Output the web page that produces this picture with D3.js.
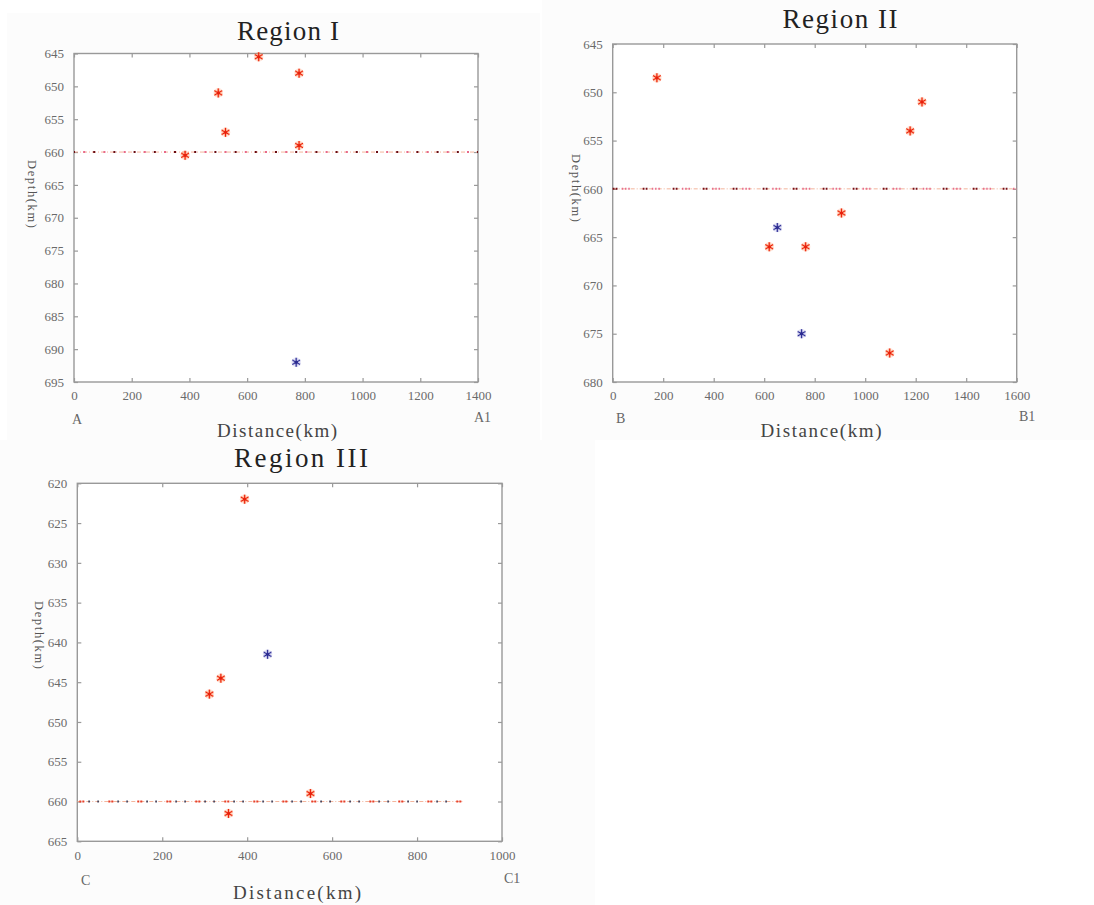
<!DOCTYPE html>
<html><head><meta charset="utf-8">
<script src="https://cdn.jsdelivr.net/npm/d3@7/dist/d3.min.js"></script>
<style>body{margin:0;background:#fff}svg{display:block}</style>
</head><body>
<svg id="c" width="1094" height="905"></svg>
<script>
// ---- Data ----
const titles = ["Region I", "Region II", "Region III"];
const startLabels = ["A", "B", "C"];
const endLabels = ["A1", "B1", "C1"];
const xTicksI = [0, 200, 400, 600, 800, 1000, 1200, 1400];
const xTicksII = [0, 200, 400, 600, 800, 1000, 1200, 1400, 1600];
const xTicksIII = [0, 200, 400, 600, 800, 1000];
const yTicksI = [645, 650, 655, 660, 665, 670, 675, 680, 685, 690, 695];
const yTicksII = [645, 650, 655, 660, 665, 670, 675, 680];
const yTicksIII = [620, 625, 630, 635, 640, 645, 650, 655, 660, 665];
const lineDepth = 660;
const lineEndI = 1400, lineEndII = 1600, lineEndIII = 910;

const redDistI = [640, 780, 500, 525, 780, 385];
const redDepthI = [645.5, 648, 651, 657, 659, 660.5];
const blueDistI = [770];
const blueDepthI = [692];

const redDistII = [175, 1225, 1178, 906, 620, 764, 1097];
const redDepthII = [648.5, 651, 654, 662.5, 666, 666, 677];
const blueDistII = [652, 748];
const blueDepthII = [664, 675];

const redDistIII = [394, 338, 311, 549, 356];
const redDepthIII = [622, 644.5, 646.5, 659, 661.5];
const blueDistIII = [448];
const blueDepthIII = [641.5];

const svg = d3.select("#c");
const SERIF = "'Liberation Serif', 'DejaVu Serif', serif";

// faint panels
[[7,13,533,427],[542,0,552,440],[0,440,595,465]].forEach(p=>{
  svg.append("rect").attr("x",p[0]).attr("y",p[1]).attr("width",p[2]).attr("height",p[3]).attr("fill","#fcfcfc");
});

function drawRegion(cfg){
  const g = svg.append("g");
  const x = d3.scaleLinear().domain(cfg.xDomain).range([cfg.x0, cfg.x1]);
  const y = d3.scaleLinear().domain(cfg.yDomain).range([cfg.y0, cfg.y1]);
  const axCol = "#999";
  g.append("rect").attr("x", cfg.x0).attr("y", cfg.y0).attr("width", cfg.x1-cfg.x0).attr("height", cfg.y1-cfg.y0)
    .attr("fill","#fff").attr("stroke", axCol).attr("stroke-width", 1.4);
  const tl = 4;
  const styleAxis = sel => {
    sel.attr("font-family", null);
    sel.select(".domain").remove();
    sel.selectAll(".tick line").attr("stroke", axCol).attr("stroke-width", 1.2);
    sel.selectAll(".tick text").style("fill", "#6a6a6a").style("font-family", SERIF).style("font-size", "13px");
  };
  g.append("g").attr("transform", `translate(0,${cfg.y1})`)
    .call(d3.axisBottom(x).tickValues(cfg.xTicks).tickSize(-tl).tickPadding(9).tickFormat(d3.format("d")))
    .call(styleAxis);
  g.append("g").attr("transform", `translate(0,${cfg.y0})`)
    .call(d3.axisTop(x).tickValues(cfg.xTicks).tickSize(-tl).tickFormat(""))
    .call(styleAxis);
  g.append("g").attr("transform", `translate(${cfg.x0},0)`)
    .call(d3.axisLeft(y).tickValues(cfg.yTicks).tickSize(-tl).tickPadding(10).tickFormat(d3.format("d")))
    .call(styleAxis);
  g.append("g").attr("transform", `translate(${cfg.x1},0)`)
    .call(d3.axisRight(y).tickValues(cfg.yTicks).tickSize(-tl).tickFormat(""))
    .call(styleAxis);

  // 660 line
  const ly = y(lineDepth);
  const lx0 = x(0), lx1 = x(cfg.lineEnd);
  g.append("line").attr("x1",lx0).attr("x2",lx1).attr("y1",ly).attr("y2",ly)
    .attr("stroke","#f0a080").attr("stroke-width",0.8).attr("stroke-dasharray","4,2,1,2");
  cfg.dots.forEach(d=>{
    g.append("line").attr("x1",lx0).attr("x2",lx1).attr("y1",ly).attr("y2",ly)
      .attr("stroke",d.color).attr("stroke-width",2).attr("stroke-dasharray",d.dash).attr("stroke-dashoffset",d.offset);
  });

  // markers
  const sym = d3.symbol().type(d3.symbolAsterisk).size(56);
  const drawPts = (xs, ys, halo, core) => {
    xs.forEach((v,i)=>{
      const t = `translate(${x(v)},${y(ys[i])})`;
      g.append("circle").attr("cx", x(v)).attr("cy", y(ys[i])).attr("r", 4.8).attr("fill", halo).attr("opacity", 0.18);
      g.append("path").attr("d", sym()).attr("transform", t).attr("fill","none")
        .attr("stroke", halo).attr("stroke-width", 2.4).attr("opacity", 0.6);
      g.append("path").attr("d", sym()).attr("transform", t).attr("fill","none")
        .attr("stroke", core).attr("stroke-width", 1);
      g.append("circle").attr("cx", x(v)).attr("cy", y(ys[i])).attr("r", 1.6).attr("fill", core);
    });
  };
  drawPts(cfg.redX, cfg.redY, "#ff7a4a", "#e8200c");
  drawPts(cfg.blueX, cfg.blueY, "#8a8ad0", "#2a2a90");

  // texts
  g.append("text").attr("x", cfg.titleX - cfg.titleW/2).attr("y", cfg.titleY)
    .attr("textLength", cfg.titleW).attr("lengthAdjust","spacing")
    .style("font-family", SERIF).style("font-size","27px")
    .attr("fill","#222").text(cfg.title);
  g.append("text").attr("x", cfg.xlabX - cfg.xlabW/2).attr("y", cfg.xlabY)
    .attr("textLength", cfg.xlabW).attr("lengthAdjust","spacing")
    .style("font-family", SERIF).style("font-size","19px")
    .attr("fill","#444").text("Distance(km)");
  g.append("text").attr("transform", `translate(${cfg.ylabX},${cfg.ylabY - 34}) rotate(90)`)
    .attr("dy","0.35em").attr("textLength", 68).attr("lengthAdjust","spacing")
    .style("font-family", SERIF).style("font-size","12.5px")
    .attr("fill","#555").text("Depth(km)");
  g.append("text").attr("x", cfg.sX).attr("y", cfg.sY).style("font-family", SERIF)
    .style("font-size","14px").attr("fill","#666").text(cfg.start);
  g.append("text").attr("x", cfg.eX).attr("y", cfg.eY).style("font-family", SERIF)
    .style("font-size","14px").attr("fill","#666").text(cfg.end);
}

drawRegion({
  xDomain:[0,1400], yDomain:[645,695], x0:74, x1:478, y0:53.5, y1:382,
  xTicks:xTicksI, yTicks:yTicksI, lineEnd:lineEndI,
  dots:[{color:"#e86a8a", dash:"2,18.2", offset:-9.2},{color:"#6a0d14", dash:"2,18.2", offset:-19.2}],
  redX:redDistI, redY:redDepthI, blueX:blueDistI, blueY:blueDepthI,
  title:titles[0], titleX:288, titleY:40, titleW:102, xlabX:277, xlabY:437, xlabW:120, ylabX:32, ylabY:194,
  start:startLabels[0], sX:72, sY:424, end:endLabels[0], eX:474, eY:422
});
drawRegion({
  xDomain:[0,1600], yDomain:[645,680], x0:612.7, x1:1016.7, y0:44, y1:382,
  xTicks:xTicksII, yTicks:yTicksII, lineEnd:lineEndII,
  dots:[{color:"#e8708e", dash:"1.5,1.8,1.5,1.8,1.5,22", offset:-9},{color:"#7a1018", dash:"1.8,1.2,1.8,25.2", offset:0}],
  redX:redDistII, redY:redDepthII, blueX:blueDistII, blueY:blueDepthII,
  title:titles[1], titleX:840, titleY:28, titleW:115, xlabX:821, xlabY:437, xlabW:121, ylabX:576, ylabY:188,
  start:startLabels[1], sX:616, sY:423, end:endLabels[1], eX:1019, eY:421
});
drawRegion({
  xDomain:[0,1000], yDomain:[620,665], x0:77.3, x1:502, y0:483.3, y1:841.3,
  xTicks:xTicksIII, yTicks:yTicksIII, lineEnd:lineEndIII,
  dots:[{color:"#e8402a", dash:"2,1,2,24", offset:-2},{color:"#3a3a55", dash:"1.6,7.4,1.6,18.4", offset:-11}],
  redX:redDistIII, redY:redDepthIII, blueX:blueDistIII, blueY:blueDepthIII,
  title:titles[2], titleX:301, titleY:467, titleW:134, xlabX:297, xlabY:899, xlabW:128, ylabX:39, ylabY:635,
  start:startLabels[2], sX:81, sY:885, end:endLabels[2], eX:504, eY:883
});
</script>
</body></html>
